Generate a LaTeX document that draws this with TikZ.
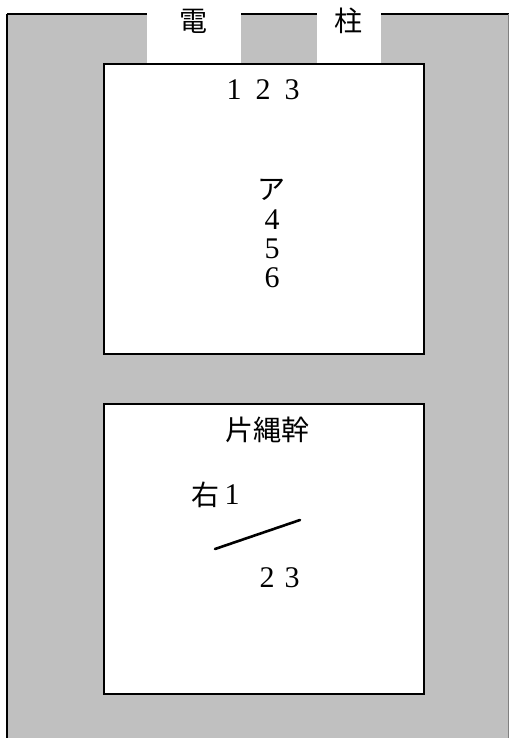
\documentclass[tikz,border=0pt]{standalone}
\usepackage{fontspec}
\newfontfamily\cjk{Noto Sans CJK JP}
\newfontfamily\digitfont{Liberation Serif}
\definecolor{polegray}{HTML}{C0C0C0}
\tikzset{
  panel/.style={draw=black, line width=1.6pt, fill=white, minimum width=320pt, minimum height=290pt, inner sep=0pt},
  kanji/.style={font=\cjk\fontsize{28}{30}\selectfont, inner sep=0pt},
  digit/.style={font=\digitfont\fontsize{30}{32}\selectfont, inner sep=0pt},
  edge/.style={line width=1.5pt},
  wire/.style={line width=2.6pt, line cap=round}
}
\begin{document}
\begin{tikzpicture}[x=1pt,y=-1pt]
\useasboundingbox (0,0) rectangle (509,738);
% pole body
\fill[polegray] (7,14) rectangle (508,738);
\fill[white] (147,14) rectangle (241,64);
\fill[white] (317,14) rectangle (381,64);
\draw[edge] (7,14) -- (147,14);
\draw[edge] (241,14) -- (317,14);
\draw[edge] (381,14) -- (509,14);
\draw[edge] (7,14) -- (7,738);
\draw[line width=1pt, gray] (508,14) -- (508,738);
% title
\node[kanji] (den) at (193.5,21) {電};
\node[kanji] (chu) at (348,21) {柱};
% panels
\node[panel] (top) at (264,209) {};
\node[panel] (bot) at (264,549) {};
% top panel texts
\node[digit] (t1) at (234,90) {1};
\node[digit] (t2) at (263,90) {2};
\node[digit] (t3) at (292,90) {3};
\node[kanji] (a) at (271,190) {ア};
\node[digit] (n4) at (272,220) {4};
\node[digit] (n5) at (272,249) {5};
\node[digit] (n6) at (272,278) {6};
% bottom panel texts
\node[kanji] (kata) at (267,430) {片縄幹};
\node[kanji] (migi) at (205,495) {右};
\node[digit] (m1) at (232,495) {1};
\coordinate (w1) at (215,549);
\coordinate (w2) at (300,520);
\draw[wire] (w1) -- (w2);
\node[digit] (b2) at (267,578) {2};
\node[digit] (b3) at (292,578) {3};
\end{tikzpicture}
\end{document}
